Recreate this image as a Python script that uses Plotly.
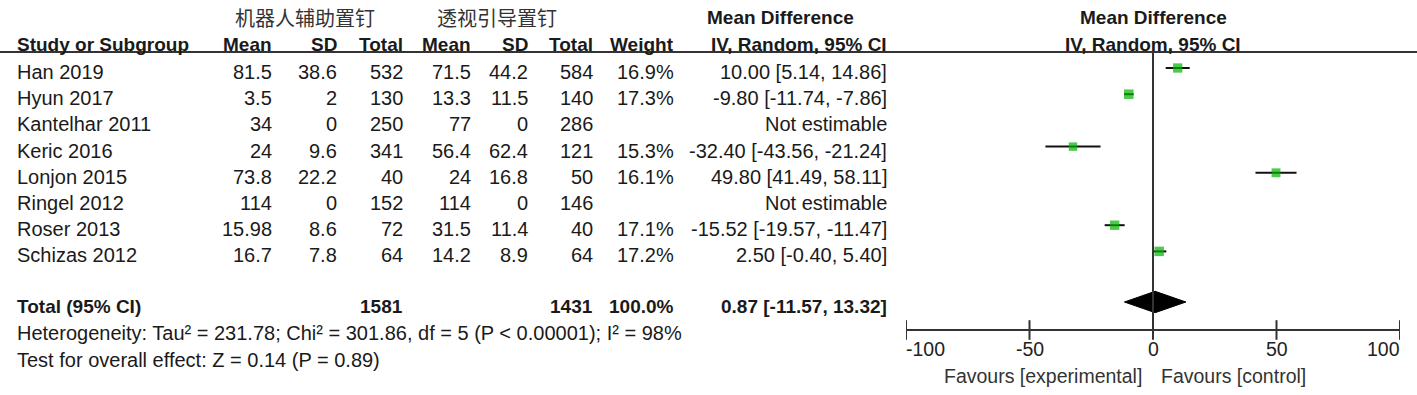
import plotly.graph_objects as go

# ---------------- data ----------------
studies = ["Han 2019", "Hyun 2017", "Kantelhar 2011", "Keric 2016",
           "Lonjon 2015", "Ringel 2012", "Roser 2013", "Schizas 2012"]
exp_mean = [81.5, 3.5, 34, 24, 73.8, 114, 15.98, 16.7]
exp_sd = [38.6, 2, 0, 9.6, 22.2, 0, 8.6, 7.8]
exp_n = [532, 130, 250, 341, 40, 152, 72, 64]
ctl_mean = [71.5, 13.3, 77, 56.4, 24, 114, 31.5, 14.2]
ctl_sd = [44.2, 11.5, 0, 62.4, 16.8, 0, 11.4, 8.9]
ctl_n = [584, 140, 286, 121, 50, 146, 40, 64]
weight = [16.9, 17.3, None, 15.3, 16.1, None, 17.1, 17.2]
md = [10.00, -9.80, None, -32.40, 49.80, None, -15.52, 2.50]
ci_lo = [5.14, -11.74, None, -43.56, 41.49, None, -19.57, -0.40]
ci_hi = [14.86, -7.86, None, -21.24, 58.11, None, -11.47, 5.40]

total_exp = 1581
total_ctl = 1431
total_weight = 100.0
pooled_md = 0.87
pooled_lo = -11.57
pooled_hi = 13.32

group_labels = ["机器人辅助置钉", "透视引导置钉"]
col_headers = ["Study or Subgroup", "Mean", "SD", "Total", "Mean", "SD", "Total", "Weight"]
effect_header = ["Mean Difference", "IV, Random, 95% CI"]
heterogeneity = "Heterogeneity: Tau² = 231.78; Chi² = 301.86, df = 5 (P < 0.00001); I² = 98%"
overall_effect = "Test for overall effect: Z = 0.14 (P = 0.89)"
axis_ticks = [-100, -50, 0, 50, 100]
favours = ["Favours [experimental]", "Favours [control]"]

# ---------------- layout constants ----------------
W, H = 1417, 395
FONT = "Liberation Sans, Arial, sans-serif"
CJK = "Noto Sans CJK SC"
TXT = "#1a1a1a"
LINE = "#333333"
GREEN = "#00b400"
FS = 20      # body text size
FSB = 19     # bold header size

Y_H1, Y_H2, Y_HLINE = 17.5, 44, 52
Y_ROW0, DY = 72, 26.2
Y_TOTAL, Y_HET, Y_TEST = 306, 333, 360
Y_AXIS, Y_TICKLAB, Y_FAV = 330, 348.5, 376
MK_OFF = -4  # markers sit slightly above the text centre

X_NAME = 17
X_COLS = [271.7, 336.7, 403.3, 471, 528.3, 592.7, 674]  # right edges
X_CI = 887.3
X_AX0, X_AX1 = 906, 1400

row_y = [Y_ROW0 + i * DY for i in range(len(studies))]

fig = go.Figure()
ann = []


def text(x, y, s, anchor="right", size=FS, bold=False, fam=FONT, color=TXT,
         xref="x", xshift=0):
    ann.append(dict(x=x, y=y, xref=xref, yref="y", text=f"<b>{s}</b>" if bold else s,
                    showarrow=False, xanchor=anchor, yanchor="middle", xshift=xshift,
                    borderpad=0, borderwidth=0,
                    font=dict(family=fam, size=size, color=color)))


# headers
text(304.5, Y_H1, group_labels[0], "center", size=20, fam=CJK, color="#333")
text(497, Y_H1, group_labels[1], "center", size=20, fam=CJK, color="#333")
text(707, Y_H1, effect_header[0], "left", size=FSB, bold=True)
text(0, Y_H1, effect_header[0], "center", size=FSB, bold=True, xref="x2")
text(X_NAME, Y_H2, col_headers[0], "left", size=FSB, bold=True)
for xc, h in zip(X_COLS, col_headers[1:]):
    text(xc, Y_H2, h, "right", size=FSB, bold=True)
text(X_CI, Y_H2, effect_header[1], "right", size=FSB, bold=True)
text(0, Y_H2, effect_header[1], "center", size=FSB, bold=True, xref="x2")

# study rows
for i, s in enumerate(studies):
    y = row_y[i]
    text(X_NAME, y, s, "left")
    vals = [f"{exp_mean[i]:g}", f"{exp_sd[i]:g}", f"{exp_n[i]}",
            f"{ctl_mean[i]:g}", f"{ctl_sd[i]:g}", f"{ctl_n[i]}"]
    for xc, v in zip(X_COLS[:6], vals):
        text(xc, y, v)
    if weight[i] is not None:
        text(X_COLS[6], y, f"{weight[i]:.1f}%")
        text(X_CI, y, f"{md[i]:.2f} [{ci_lo[i]:.2f}, {ci_hi[i]:.2f}]")
    else:
        text(X_CI, y, "Not estimable")

# total row
text(X_NAME, Y_TOTAL, "Total (95% CI)", "left", size=FSB, bold=True)
text(X_COLS[2], Y_TOTAL, f"{total_exp}", size=FSB, bold=True)
text(X_COLS[5], Y_TOTAL, f"{total_ctl}", size=FSB, bold=True)
text(X_COLS[6], Y_TOTAL, f"{total_weight:.1f}%", size=FSB, bold=True)
text(X_CI, Y_TOTAL, f"{pooled_md:.2f} [{pooled_lo:.2f}, {pooled_hi:.2f}]", size=FSB, bold=True)
text(X_NAME, Y_HET, heterogeneity, "left", size=FS)
text(X_NAME, Y_TEST, overall_effect, "left", size=FS)

# axis tick labels
for t in axis_ticks:
    anc = "left" if t == min(axis_ticks) else ("right" if t == max(axis_ticks) else "center")
    text(t, Y_TICKLAB, f"{t}", anc, size=19.5, xref="x2", color="#222")
text(0, Y_FAV, favours[0], "right", size=19.5, xref="x2", color="#333", xshift=-11)
text(0, Y_FAV, favours[1], "left", size=19.5, xref="x2", color="#333", xshift=8)

# study estimates
est_idx = [i for i in range(len(studies)) if md[i] is not None]
fig.add_trace(go.Scatter(
    x=[md[i] for i in est_idx],
    y=[row_y[i] + MK_OFF for i in est_idx],
    xaxis="x2", yaxis="y", mode="markers",
    marker=dict(symbol="square", color=GREEN, size=[weight[i] * 0.55 for i in est_idx],
                line=dict(width=0)),
    error_x=dict(type="data", symmetric=False,
                 array=[ci_hi[i] - md[i] for i in est_idx],
                 arrayminus=[md[i] - ci_lo[i] for i in est_idx],
                 color="#111", thickness=2, width=0),
    hoverinfo="skip", showlegend=False))

# pooled diamond
HD = 10.7
yc = Y_TOTAL + MK_OFF
fig.add_trace(go.Scatter(
    x=[pooled_lo, pooled_md, pooled_hi, pooled_md, pooled_lo],
    y=[yc, yc - HD, yc, yc + HD, yc],
    xaxis="x2", yaxis="y", mode="lines", fill="toself",
    fillcolor="#000", line=dict(color="#000", width=1),
    hoverinfo="skip", showlegend=False))

# axis ticks crossing the axis line
fig.add_trace(go.Scatter(
    x=axis_ticks, y=[Y_AXIS] * len(axis_ticks), xaxis="x2", yaxis="y",
    mode="markers", marker=dict(symbol="line-ns", size=14,
                                line=dict(width=2, color=LINE)),
    hoverinfo="skip", showlegend=False))

shapes = [
    dict(type="line", xref="paper", yref="y", x0=0, x1=1, y0=Y_HLINE, y1=Y_HLINE,
         line=dict(color=LINE, width=2)),
    dict(type="line", xref="x2", yref="y", x0=0, x1=0, y0=Y_HLINE, y1=Y_AXIS + 7,
         line=dict(color=LINE, width=2)),
]

fig.update_layout(
    width=W, height=H, margin=dict(l=0, r=0, t=0, b=0),
    paper_bgcolor="white", plot_bgcolor="white",
    xaxis=dict(range=[0, W], domain=[0, 1], visible=False, fixedrange=True),
    yaxis=dict(range=[H, 0], domain=[0, 1], visible=False, fixedrange=True),
    xaxis2=dict(range=[min(axis_ticks), max(axis_ticks)],
                domain=[X_AX0 / W, X_AX1 / W], anchor="free",
                position=(H - Y_AXIS) / H,
                showline=True, linecolor=LINE, linewidth=2, ticks="",
                showticklabels=False, showgrid=False, zeroline=False, fixedrange=True),
    annotations=ann, shapes=shapes, showlegend=False,
)

fig.write_html("out.html", config={"displayModeBar": False},
               post_script="document.body.style.margin='0px';")
